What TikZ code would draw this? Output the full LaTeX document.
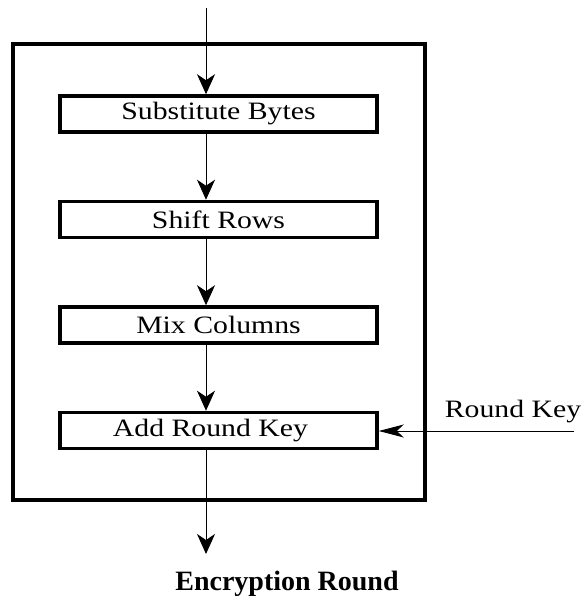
\documentclass[tikz,border=0pt]{standalone}
\usepackage{fontspec}
\setmainfont{Liberation Serif}
\usetikzlibrary{arrows.meta}
\newcommand{\widetxt}[1]{\scalebox{1.19}[1]{#1}}
\begin{document}
\begin{tikzpicture}[x=1pt,y=-1pt,
  stage/.style={draw, line width=3.5pt, minimum width=317pt, minimum height=36pt, inner sep=0pt, font=\fontsize{25}{27}\selectfont},
  flow/.style={line width=1pt, -{Stealth[length=20pt,width=18pt,inset=6pt]}},
  sideflow/.style={line width=1pt, -{Stealth[length=25pt,width=13pt,inset=7pt]}}]
\useasboundingbox (0,0) rectangle (585,601);
\draw[line width=4.5pt] (13,44) rectangle (425,500);
\node[stage] (sb) at (218.5,114) {\widetxt{Substitute Bytes}};
\node[stage] (sr) at (218.5,219.5) {\widetxt{Shift Rows}};
\node[stage] (mc) at (218.5,325) {\widetxt{Mix Columns}};
\node[stage] (ak) at (218.5,430.5) {\hspace*{-16pt}\widetxt{Add Round Key}};
\coordinate (in) at (206,8);
\coordinate (out) at (206,554);
\coordinate (rk) at (574,431);
\node[font=\fontsize{25}{27}\selectfont] (rkl) at (513,412) {\widetxt{Round Key}};
\node[font=\fontsize{28}{30}\selectfont\bfseries] (cap) at (287,584) {Encryption Round};
\draw[flow] (in) -- (in |- sb.north);
\draw[flow] (sb.south -| in) -- (sr.north -| in);
\draw[flow] (sr.south -| in) -- (mc.north -| in);
\draw[flow] (mc.south -| in) -- (ak.north -| in);
\draw[flow] (ak.south -| in) -- (out);
\draw[sideflow] (rk) -- (ak.east |- rk);
\end{tikzpicture}
\end{document}
